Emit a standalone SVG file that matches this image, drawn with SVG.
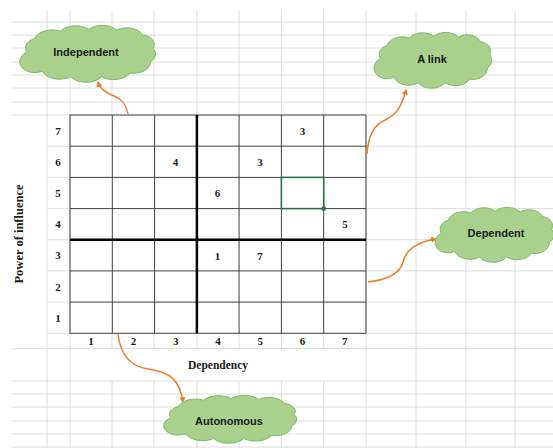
<svg xmlns="http://www.w3.org/2000/svg" width="553" height="448" viewBox="0 0 553 448">
<style>
.bg{stroke:#dedede;stroke-width:1;fill:none}
.cell{stroke:#404040;stroke-width:1;fill:none}
.thick{stroke:#000;stroke-width:2.5}
.num{font-family:"Liberation Serif",serif;font-weight:bold;font-size:11px;fill:#1a1a1a;text-anchor:middle}
.ax{font-family:"Liberation Serif",serif;font-weight:bold;font-size:11.5px;fill:#1a1a1a;text-anchor:middle}
.cl{fill:#a9d18e;stroke:#82b865;stroke-width:1}
.ct{font-family:"Liberation Sans",Arial,sans-serif;font-weight:bold;font-size:11px;fill:#1a1a1a;text-anchor:middle}
.arr{stroke:#ed7d31;stroke-width:1.5;fill:none;marker-end:url(#ah)}
</style>
<defs>
<marker id="ah" viewBox="0 0 10 10" refX="8" refY="5" markerWidth="4" markerHeight="4" orient="auto" markerUnits="strokeWidth">
<path d="M0,0 L10,5 L0,10 z" fill="#ed7d31"/>
</marker>
<path id="cloud" vector-effect="non-scaling-stroke" d="M12,30 A10,10 0 0 1 18,16 A14,12 0 0 1 38,8 A14,12 0 0 1 60,6 A14,12 0 0 1 82,7 A13,12 0 0 1 102,12 A10,10 0 0 1 110,26 A10,10 0 0 1 108,40 A13,12 0 0 1 92,52 A14,12 0 0 1 70,56 A14,12 0 0 1 46,56 A14,12 0 0 1 24,50 A10,10 0 0 1 12,30 Z"/>
</defs>
<rect width="553" height="448" fill="#fff"/>
<g id="sheet-grid">
<path class="bg" d="M47,10V448 M70,10V448 M366,10V448 M416,10V448 M466,10V448 M515,10V448
M112,10V115 M154,10V115 M196.9,10V115 M239,10V115 M281.4,10V115 M323.7,10V115
M112,333V349 M154,333V349 M196.9,333V349 M239,333V349 M281.4,333V349 M323.7,333V349
M112,381V448 M154,381V448 M196.9,381V448 M239,381V448 M281.4,381V448 M323.7,381V448
M12,22H553 M12,35H553 M12,48H553 M12,62H553 M12,75H553 M12,88H553 M12,102H553 M12,115H553
M47,146.2H70 M47,177.4H70 M47,208.6H70 M47,239.7H70 M47,270.9H70 M47,302.1H70 M47,333.3H70
M366,146.2H553 M366,177.4H553 M366,208.6H553 M366,239.7H553 M366,270.9H553 M366,302.1H553 M366,333.3H553
M12,348.5H553 M12,381H553 M12,394H553 M12,407H553 M12,421H553 M12,434H553 M12,447H553"/>
</g>
<g id="matrix">
<rect class="cell" x="70" y="115" width="296" height="218.3"/>
<path class="cell" d="M112.3,115V333.3 M154.6,115V333.3 M239.1,115V333.3 M281.4,115V333.3 M323.7,115V333.3
M70,146.2H366 M70,177.4H366 M70,208.6H366 M70,270.9H366 M70,302.1H366"/>
<path class="thick" d="M196.9,115V333.3 M70,239.7H366"/>
<rect x="281.4" y="177.4" width="42.3" height="31.2" fill="none" stroke="#217346" stroke-width="1.5"/>
<rect x="321.7" y="206.6" width="4" height="4" fill="#217346"/>
<text class="num" x="302.5" y="135">3</text>
<text class="num" x="175.5" y="166">4</text>
<text class="num" x="260" y="166">3</text>
<text class="num" x="217.5" y="197">6</text>
<text class="num" x="345" y="228">5</text>
<text class="num" x="217.5" y="260">1</text>
<text class="num" x="260" y="260">7</text>
</g>
<g id="row-labels">
<text class="num" x="58" y="134.5">7</text>
<text class="num" x="58" y="165.7">6</text>
<text class="num" x="58" y="196.9">5</text>
<text class="num" x="58" y="228">4</text>
<text class="num" x="58" y="259.3">3</text>
<text class="num" x="58" y="290.5">2</text>
<text class="num" x="58" y="321.7">1</text>
</g>
<g id="col-labels">
<text class="num" x="91" y="345">1</text>
<text class="num" x="133.5" y="345">2</text>
<text class="num" x="175.7" y="345">3</text>
<text class="num" x="218" y="345">4</text>
<text class="num" x="260.2" y="345">5</text>
<text class="num" x="302.5" y="345">6</text>
<text class="num" x="344.8" y="345">7</text>
</g>
<g id="axis-x"><text class="ax" x="218" y="369">Dependency</text></g>
<g id="axis-y"><text class="ax" style="font-size:12.5px" transform="translate(23,234) rotate(-90)">Power of influence</text></g>
<g id="connectors">
<path class="arr" d="M128,114 C126,104 122,99 114,96 C106,93 100,89 98,82"/>
<path class="arr" d="M367,154 C368,138 373,125 385,120 C396,115 401,108 406,90"/>
<path class="arr" d="M368,282 C385,280 400,274 403,262 C406,250 416,242 436,239"/>
<path class="arr" d="M118,334 C120,352 128,366 148,369 C170,372 180,380 183,402"/>
</g>
<g id="independent">
<use href="#cloud" class="cl" transform="translate(23,25) scale(1.288,0.95) translate(-9,-1.5)"/>
<text class="ct" x="86" y="56">Independent</text>
</g>
<g id="alink">
<use href="#cloud" class="cl" transform="translate(377,32) scale(1.115,0.933) translate(-9,-1.5)"/>
<text class="ct" x="432" y="63">A link</text>
</g>
<g id="dependent">
<use href="#cloud" class="cl" transform="translate(438,207) scale(1.125,0.917) translate(-9,-1.5)"/>
<text class="ct" x="496" y="237">Dependent</text>
</g>
<g id="autonomous">
<use href="#cloud" class="cl" transform="translate(167,395) scale(1.26,0.8) translate(-9,-1.5)"/>
<text class="ct" x="229" y="425">Autonomous</text>
</g>
</svg>
